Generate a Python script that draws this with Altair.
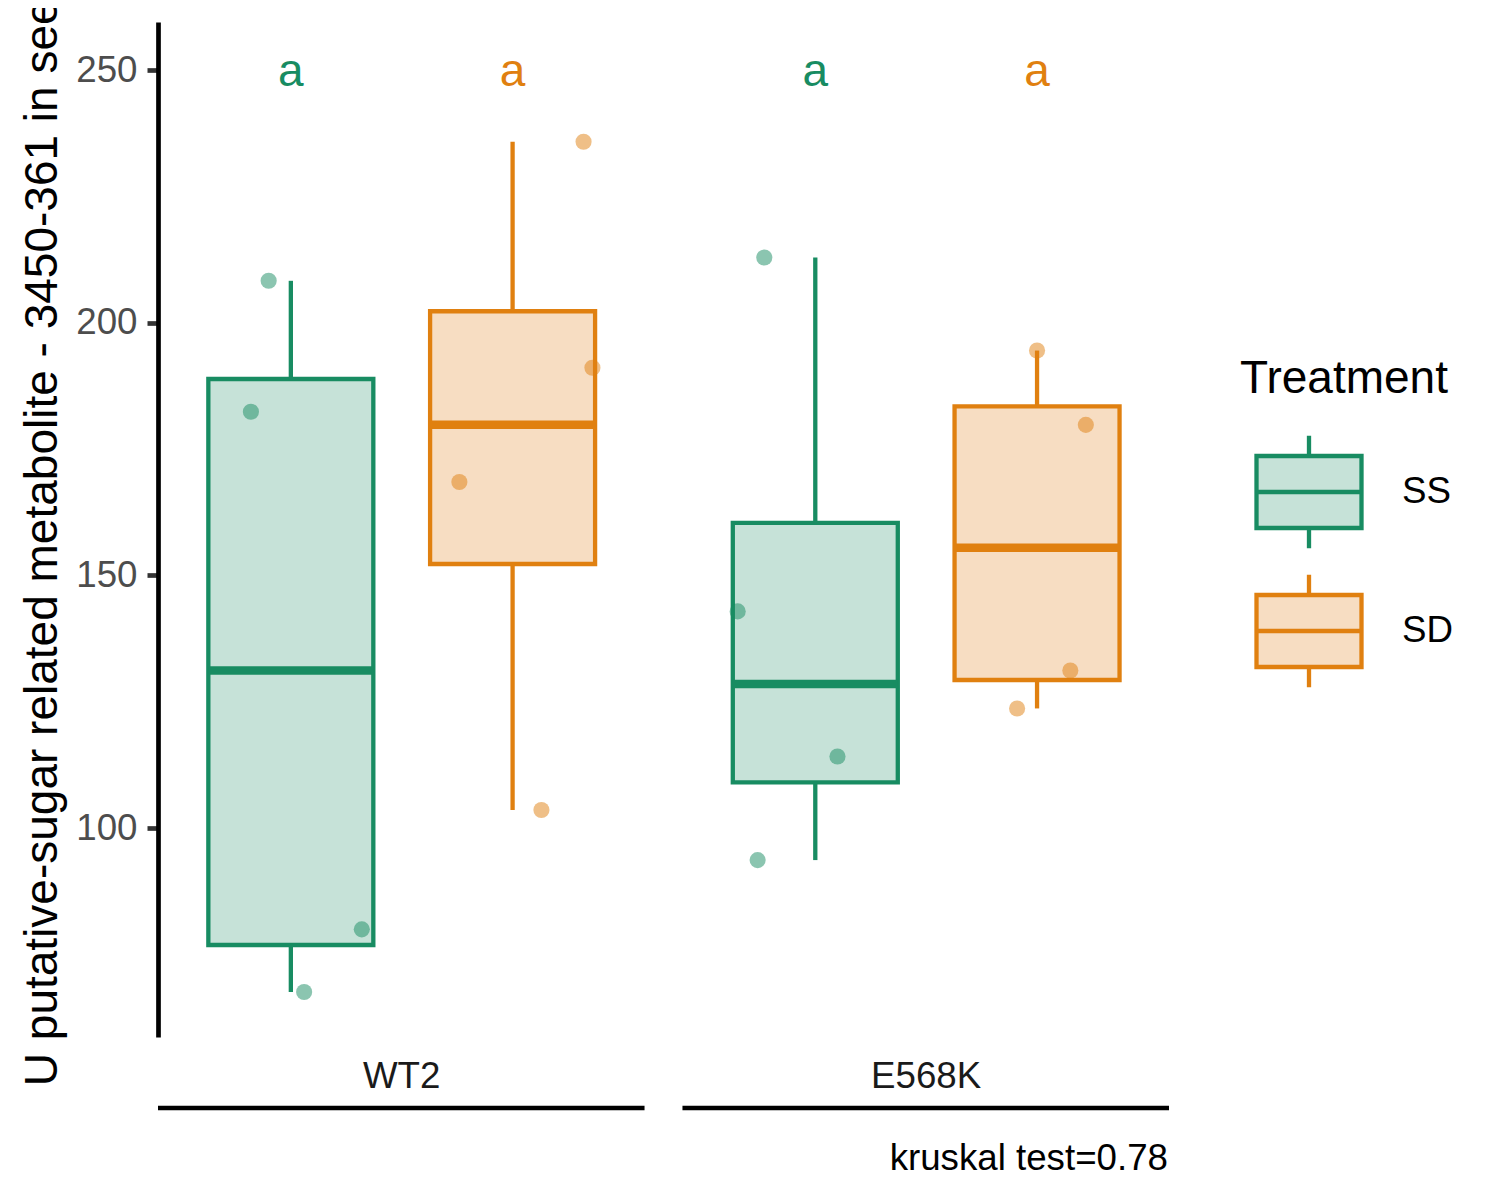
import altair as alt
import pandas as pd

genotypes = ["WT2", "E568K"]
treatments = ["SS", "SD"]

# metabolite values (one list per genotype x treatment)
wt2_ss = [208.3, 182.4, 80.0, 67.6]
wt2_sd = [235.8, 191.1, 168.5, 103.6]
e568k_ss = [212.9, 142.9, 114.2, 93.7]
e568k_sd = [194.5, 179.8, 131.2, 123.7]

# horizontal jitter of each dot as it sits in the picture (box-spacing units)
wt2_ss_jit = [-0.10, -0.18, 0.32, 0.06]
wt2_sd_jit = [0.32, 0.36, -0.24, 0.13]
e568k_ss_jit = [-0.23, -0.35, 0.10, -0.26]
e568k_sd_jit = [0.00, 0.22, 0.15, -0.09]

# significance letters, order WT2-SS, WT2-SD, E568K-SS, E568K-SD
letters = ["a", "a", "a", "a"]

y_title = "U putative-sugar related metabolite - 3450-361 in seed"
caption = "kruskal test=0.78"

dark = ["#188C62", "#E08010"]
light = ["#C6E2D8", "#F7DDC2"]

values = {("WT2", "SS"): (wt2_ss, wt2_ss_jit), ("WT2", "SD"): (wt2_sd, wt2_sd_jit),
          ("E568K", "SS"): (e568k_ss, e568k_ss_jit), ("E568K", "SD"): (e568k_sd, e568k_sd_jit)}

rows, groups = [], []
for g, geno in enumerate(genotypes):
    for t, tr in enumerate(treatments):
        vals, jit = values[(geno, tr)]
        for v, j in zip(vals, jit):
            rows.append({"Genotype": geno, "Treatment": tr, "g": g, "t": t, "value": v, "jitter": j})
        groups.append({"Genotype": geno, "Treatment": tr, "g": g, "t": t,
                       "letter": letters[len(groups)]})
points_df = pd.DataFrame(rows)
groups_df = pd.DataFrame(groups)
strips_df = pd.DataFrame({"Genotype": genotypes, "g": list(range(len(genotypes)))})

PANEL = 2.365      # distance between the two genotype panels
HALF = 0.372       # half box width
xscale = alt.Scale(domain=[-0.599, 3.96], nice=False, zero=False)
yscale = alt.Scale(domain=[58.7, 259.5], nice=False, zero=False)

yaxis = alt.Axis(values=[100, 150, 200, 250], title=y_title, grid=False,
                 domainColor="black", domainWidth=4.7, tickColor="#333333", tickWidth=4.7,
                 tickSize=11, labelFontSize=36.7, labelColor="#4D4D4D", labelPadding=10,
                 titleFontSize=46, titleFontWeight="normal", titleColor="black",
                 titleX=-102, titleBaseline="alphabetic")

box_symbol = "M-1,-0.686H1V0.686H-1Z M0,-0.686V-1.07 M0,0.686V1.07 M-1,0H1"
legend = alt.Legend(title="Treatment", orient="none", legendX=1082, legendY=335,
                    symbolType=box_symbol, symbolSize=11025, symbolStrokeWidth=4.3,
                    symbolOffset=14, titleLimit=400,
                    titleFontSize=46, titleFontWeight="normal", titleColor="black",
                    titlePadding=34, labelFontSize=36.7, labelColor="black",
                    labelOffset=38, rowPadding=9)

fill_enc = alt.Fill("Treatment:N", scale=alt.Scale(domain=treatments, range=light), legend=legend)
stroke_enc = alt.Stroke("Treatment:N", scale=alt.Scale(domain=treatments, range=dark), legend=legend)
color_enc = alt.Color("Treatment:N", scale=alt.Scale(domain=treatments, range=dark), legend=None)


def X(field):
    return alt.X(f"{field}:Q", scale=xscale, axis=None)


def Y(field):
    return alt.Y(f"{field}:Q", scale=yscale, axis=yaxis)


stats = (
    alt.Chart(points_df)
    .transform_aggregate(q1="q1(value)", median="median(value)", q3="q3(value)",
                         lo="min(value)", hi="max(value)", groupby=["Genotype", "Treatment", "g", "t"])
    .transform_calculate(pos=f"datum.g * {PANEL} + datum.t")
    .transform_calculate(b0=f"datum.pos - {HALF}", b1=f"datum.pos + {HALF}")
)

whisk_lo = stats.mark_rule(strokeWidth=4.3).encode(x=X("pos"), y=Y("lo"), y2="q1:Q", stroke=stroke_enc)
whisk_hi = stats.mark_rule(strokeWidth=4.3).encode(x=X("pos"), y=Y("q3"), y2="hi:Q", stroke=stroke_enc)
boxes = stats.mark_rect(strokeWidth=4.3).encode(
    x=X("b0"), x2="b1:Q", y=Y("q1"), y2="q3:Q", fill=fill_enc, stroke=stroke_enc)
medians = stats.mark_rule(strokeWidth=8.5).encode(x=X("b0"), x2="b1:Q", y=Y("median"), stroke=stroke_enc)

dots = (
    alt.Chart(points_df)
    .transform_calculate(pos=f"datum.g * {PANEL} + datum.t + datum.jitter")
    .mark_circle(size=260, opacity=0.5)
    .encode(x=X("pos"), y=Y("value"), color=color_enc)
)

letter_marks = (
    alt.Chart(groups_df)
    .transform_calculate(pos=f"datum.g * {PANEL} + datum.t")
    .mark_text(fontSize=46, baseline="alphabetic", dy=15.5)
    .encode(x=X("pos"), y=alt.datum(250), text="letter:N", color=color_enc)
)

strip_base = alt.Chart(strips_df).transform_calculate(
    mid=f"datum.g * {PANEL} + 0.5", lo=f"datum.g * {PANEL} - 0.599", hi=f"datum.g * {PANEL} + 1.595")
strip_text = strip_base.mark_text(fontSize=36.7, color="#1A1A1A", baseline="alphabetic").encode(
    x=X("mid"), y=alt.value(1066), text="Genotype:N")
strip_line = strip_base.mark_rule(strokeWidth=4.3, color="black").encode(
    x=X("lo"), x2="hi:Q", y=alt.value(1086))

cap = alt.Chart(pd.DataFrame({"caption": [caption]})).mark_text(
    fontSize=36.7, color="black", align="right", baseline="alphabetic"
).encode(x=alt.value(1010), y=alt.value(1148), text="caption:N")

chart = (
    alt.layer(whisk_lo, whisk_hi, boxes, medians, dots, letter_marks, strip_text, strip_line, cap)
    .properties(width=1011, height=1015, autosize=alt.AutoSizeParams(type="none"),
                padding={"left": 150, "top": 14, "right": 315, "bottom": 150})
    .configure(font="Liberation Sans")
    .configure_view(stroke=None)
)

chart.save("out.html", embed_options={"renderer": "svg", "actions": False})
